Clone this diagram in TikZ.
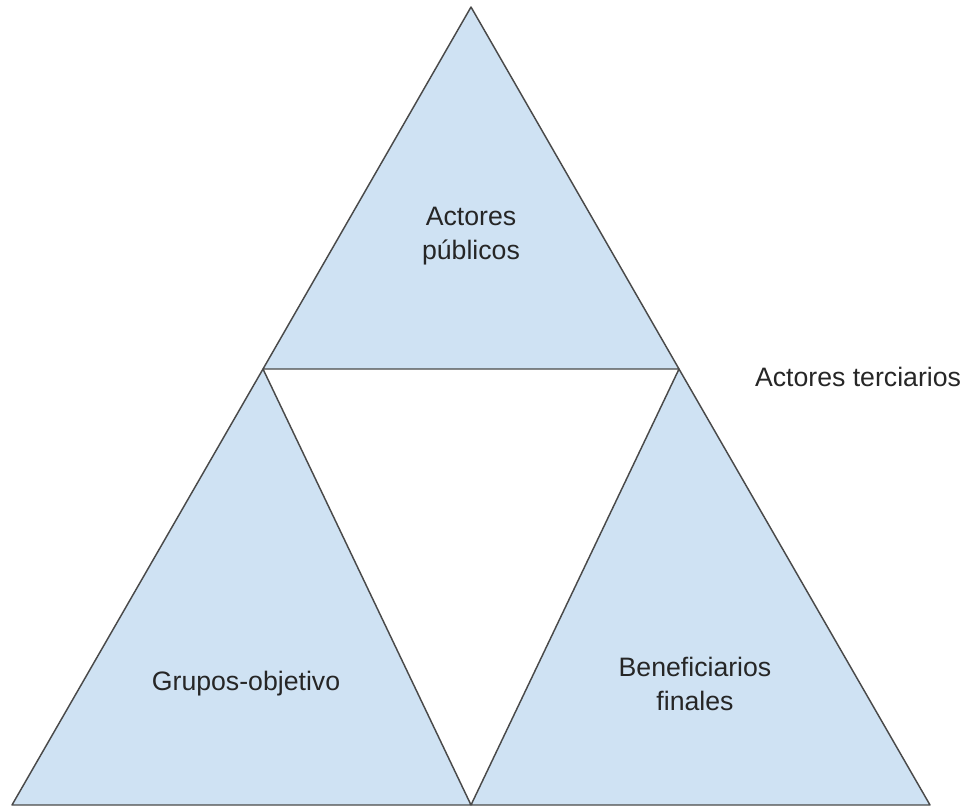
\documentclass[tikz,border=0pt]{standalone}
\usepackage{fontspec}
\setmainfont{Liberation Sans}
\definecolor{paleblue}{HTML}{CFE2F3}
\definecolor{edgegray}{HTML}{4A4A4A}
\tikzstyle{piece} = [fill=paleblue, draw=edgegray, line width=1.1pt, line join=round]
\tikzstyle{tag} = [align=center, inner sep=0pt, font=\fontsize{20}{25}\selectfont, text=black!85]

\begin{document}
\begin{tikzpicture}[x=0.75pt, y=-0.75pt]
	\useasboundingbox (0,0) rectangle (967,807);
	% corners
	\coordinate (apex) at (471,7);
	\coordinate (midL) at (263,369);
	\coordinate (midR) at (679,369);
	\coordinate (baseL) at (12,805);
	\coordinate (baseM) at (471,805);
	\coordinate (baseR) at (930,805);
	% the three parts
	\draw[piece] (apex) -- (midL) -- (midR) -- cycle;
	\draw[piece] (midL) -- (baseL) -- (baseM) -- cycle;
	\draw[piece] (midR) -- (baseM) -- (baseR) -- cycle;
	% labels
	\node[tag] (publicos) at (471,236) {Actores\\públicos};
	\node[tag] (grupos) at (246,684) {Grupos-objetivo};
	\node[tag] (benef) at (695,684) {Beneficiarios\\finales};
	\node[tag] (terciarios) at (858,377) {Actores terciarios};
\end{tikzpicture}
\end{document}
